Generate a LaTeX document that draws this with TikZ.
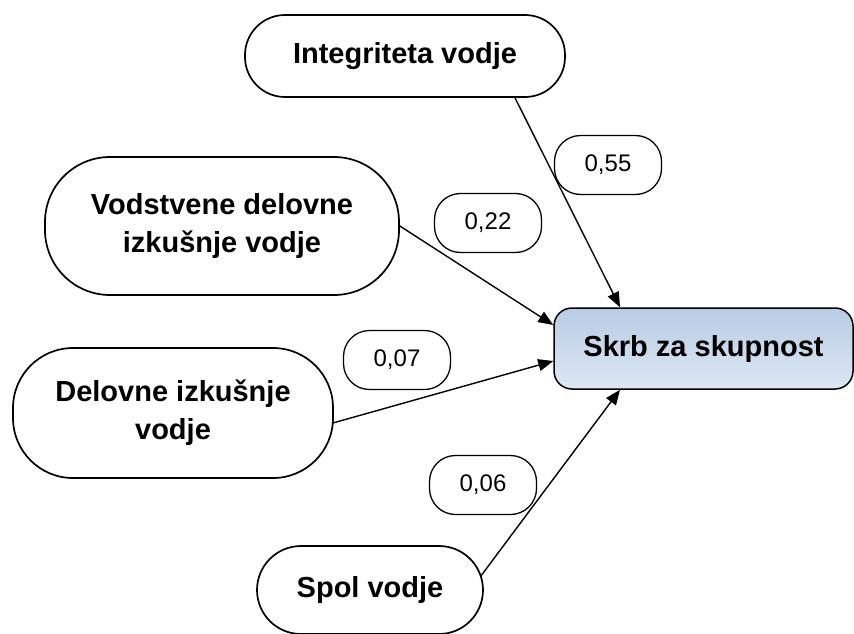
\documentclass[tikz,border=0pt]{standalone}
\usepackage{fontspec}
\setmainfont{Liberation Sans}
\usetikzlibrary{arrows.meta}

\definecolor{boxtop}{HTML}{B8CCE4}
\definecolor{boxbottom}{HTML}{DDE7F3}

\begin{document}
\begin{tikzpicture}[x=1pt,y=-1pt,
  factor/.style={draw, line width=1.7pt, rounded corners=#1, inner sep=0pt,
    align=center, font=\fontsize{29}{38}\selectfont\bfseries},
  weight/.style={draw, line width=1.3pt, rounded corners=26pt, inner sep=0pt,
    minimum width=107pt, minimum height=59pt, font=\fontsize{24}{28}\selectfont},
  outcome/.style={draw, line width=1.5pt, rounded corners=18pt, inner sep=0pt,
    top color=boxtop, bottom color=boxbottom,
    font=\fontsize{29}{34}\selectfont\bfseries},
  path/.style={line width=1.4pt, -{Triangle[length=15pt,width=12pt]}}
]
\useasboundingbox (0,0) rectangle (854,634);

% predictors
\node[factor=40pt, minimum width=320pt, minimum height=82pt] (int) at (405,56)
  {Integriteta vodje};
\node[factor=65pt, minimum width=354pt, minimum height=138pt] (vod) at (222,226)
  {Vodstvene delovne\\izkušnje vodje};
\node[factor=60pt, minimum width=320pt, minimum height=130pt] (del) at (173,413)
  {Delovne izkušnje\\vodje};
\node[factor=44pt, minimum width=226pt, minimum height=88pt] (spol) at (370,590)
  {Spol vodje};

% outcome
\node[outcome, minimum width=299pt, minimum height=81pt] (skrb) at (703.5,348.5)
  {Skrb za skupnost};

% path coefficients
\node[weight] (w1) at (608,165) {0,55};
\node[weight] (w2) at (488,223) {0,22};
\node[weight] (w3) at (397,360) {0,07};
\node[weight] (w4) at (483,485) {0,06};

% paths
\draw[path] ([xshift=110pt]int.south) -- ([xshift=-83.5pt]skrb.north);
\draw[path] (vod.east) -- ([yshift=23.5pt]skrb.west);
\draw[path] ([yshift=-10pt,xshift=-1pt]del.east) -- ([yshift=-12.5pt]skrb.west);
\draw[path] ([yshift=14pt,xshift=-3pt]spol.east) -- ([xshift=-83.5pt]skrb.south);
\end{tikzpicture}
\end{document}
